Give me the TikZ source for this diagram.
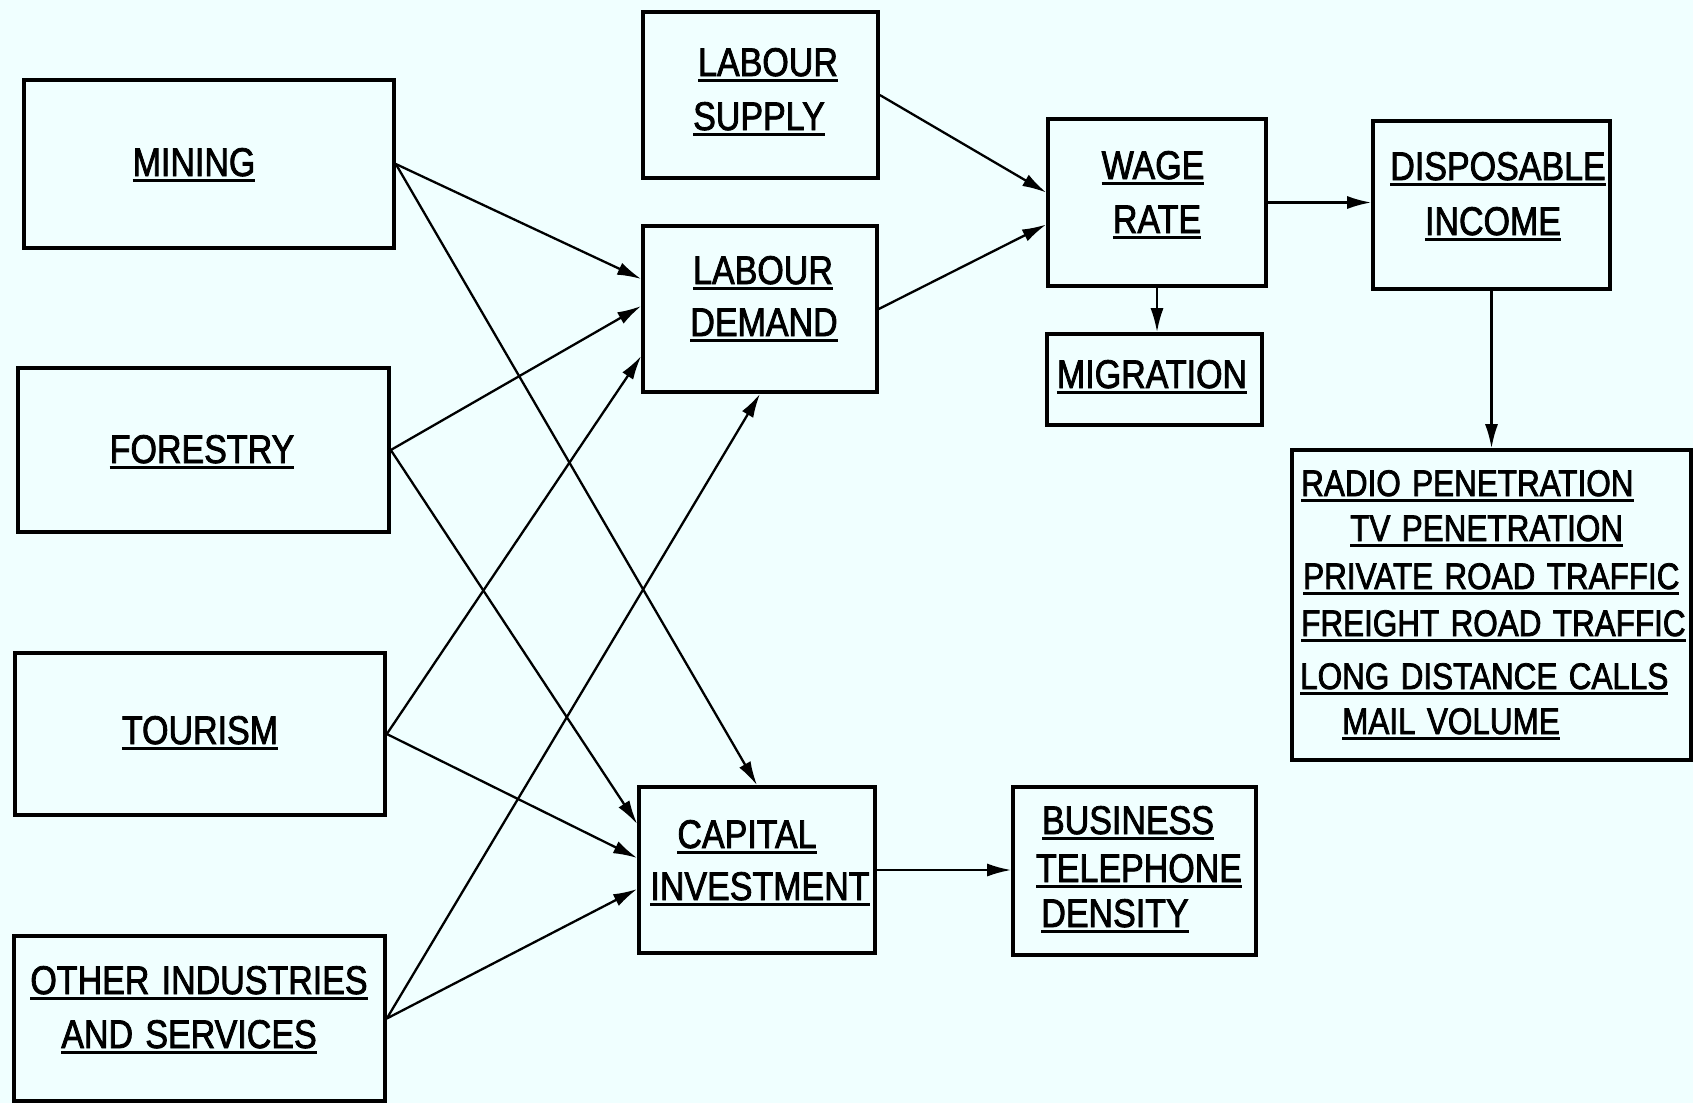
\documentclass[tikz,border=0pt]{standalone}
\usepackage{fontspec}
\setmainfont{Liberation Sans}[FakeStretch=0.85,FakeBold=2,WordSpace=1.3]
\usetikzlibrary{arrows.meta,calc}
\definecolor{paper}{RGB}{240,255,255}
% underlined lettering: a heavy rule just below the baseline
\newcommand\ulword[1]{\setbox0\hbox{#1}\rlap{\smash{\rule[-6pt]{\wd0}{3pt}}}\box0}
\begin{document}
\begin{tikzpicture}[x=1pt,y=-1pt,
  box/.style={draw, line width=3.6pt, inner sep=0pt},
  lbl/.style={anchor=base, inner sep=0pt, font=\fontsize{40}{48}\selectfont},
  item/.style={anchor=base west, inner sep=0pt, font=\fontsize{37}{44}\selectfont},
  arr/.style={-{Latex[length=24pt,width=13pt]}, line width=2.3pt}]
\fill[paper] (0,0) rectangle (1693,1103);
\useasboundingbox (0,0) rectangle (1693,1103);

% sectors
\node[box, minimum width=370pt, minimum height=168pt] (mining)   at (209,164)    {};
\node[box, minimum width=371pt, minimum height=164pt] (forestry) at (203.5,450)  {};
\node[box, minimum width=370pt, minimum height=162pt] (tourism)  at (200,734)    {};
\node[box, minimum width=371pt, minimum height=165pt] (other)    at (199.5,1018.5) {};
% labour market and investment
\node[box, minimum width=235pt, minimum height=166pt] (ls)   at (760.5,95)  {};
\node[box, minimum width=234pt, minimum height=166pt] (ld)   at (760,309)   {};
\node[box, minimum width=236pt, minimum height=166pt] (ci)   at (757,870)   {};
\node[box, minimum width=218pt, minimum height=167pt] (wage) at (1157,202.5) {};
\node[box, minimum width=215pt, minimum height=91pt]  (mig)  at (1154.5,379.5) {};
\node[box, minimum width=237pt, minimum height=168pt] (disp) at (1491.5,205) {};
\node[box, minimum width=399pt, minimum height=310pt] (list) at (1491.5,605) {};
\node[box, minimum width=243pt, minimum height=168pt] (btd)  at (1134.5,871) {};

% labels
\node[lbl] (tmining)   at (194,176)  {\ulword{MINING}};
\node[lbl] (tforestry) at (202,463)  {\ulword{FORESTRY}};
\node[lbl] (ttourism)  at (200,744)  {\ulword{TOURISM}};
\node[lbl] (tother1)   at (199,994)  {\ulword{OTHER INDUSTRIES}};
\node[lbl] (tother2)   at (189,1048) {\ulword{AND SERVICES}};
\node[lbl] (tls1) at (768,76)  {\ulword{LABOUR}};
\node[lbl] (tls2) at (759,130) {\ulword{SUPPLY}};
\node[lbl] (tld1) at (763,284) {\ulword{LABOUR}};
\node[lbl] (tld2) at (764,336) {\ulword{DEMAND}};
\node[lbl] (twage1) at (1153,179) {\ulword{WAGE}};
\node[lbl] (twage2) at (1157,233) {\ulword{RATE}};
\node[lbl] (tdisp1) at (1498,180) {\ulword{DISPOSABLE}};
\node[lbl] (tdisp2) at (1493,235) {\ulword{INCOME}};
\node[lbl] (tmig)   at (1152,388) {\ulword{MIGRATION}};
\node[lbl] (tci1) at (747,848) {\ulword{CAPITAL}};
\node[lbl] (tci2) at (760,900) {\ulword{INVESTMENT}};
\node[lbl] (tbtd1) at (1128,834) {\ulword{BUSINESS}};
\node[lbl] (tbtd2) at (1139,882) {\ulword{TELEPHONE}};
\node[lbl] (tbtd3) at (1115,927) {\ulword{DENSITY}};
\node[item] (tl1) at (1301,496) {\ulword{RADIO PENETRATION}};
\node[item] (tl2) at (1350,541) {\ulword{TV PENETRATION}};
\node[item] (tl3) at (1303,589) {\ulword{PRIVATE ROAD TRAFFIC}};
\node[item] (tl4) at (1301,636) {\ulword{FREIGHT ROAD TRAFFIC}};
\node[item] (tl5) at (1300,689) {\ulword{LONG DISTANCE CALLS}};
\node[item] (tl6) at (1342,734) {\ulword{MAIL VOLUME}};

% influences
\draw[arr] (mining.east)   -- ([yshift=30pt]ld.west);
\draw[arr] (mining.east)   -- (ci.north);
\draw[arr] (forestry.east) -- ([yshift=3pt]ld.west);
\draw[arr] (forestry.east) -- ([yshift=46pt]ci.west);
\draw[arr] (tourism.east)  -- ([yshift=-47pt]ld.west);
\draw[arr] (tourism.east)  -- ([yshift=12pt]ci.west);
\draw[arr] (other.east)    -- (ld.south);
\draw[arr] (other.east)    -- ([yshift=-19pt]ci.west);
\draw[arr] (ls.east) -- ([yshift=10pt]wage.west);
\draw[arr] (ld.east) -- ([yshift=-22pt]wage.west);
\draw[arr] (wage.east)  -- (wage.east -| disp.west);
\draw[arr] (wage.south) -- (wage.south |- mig.north);
\draw[arr] (disp.south) -- (disp.south |- list.north);
\draw[arr] (ci.east)    -- (ci.east -| btd.west);
\end{tikzpicture}
\end{document}
